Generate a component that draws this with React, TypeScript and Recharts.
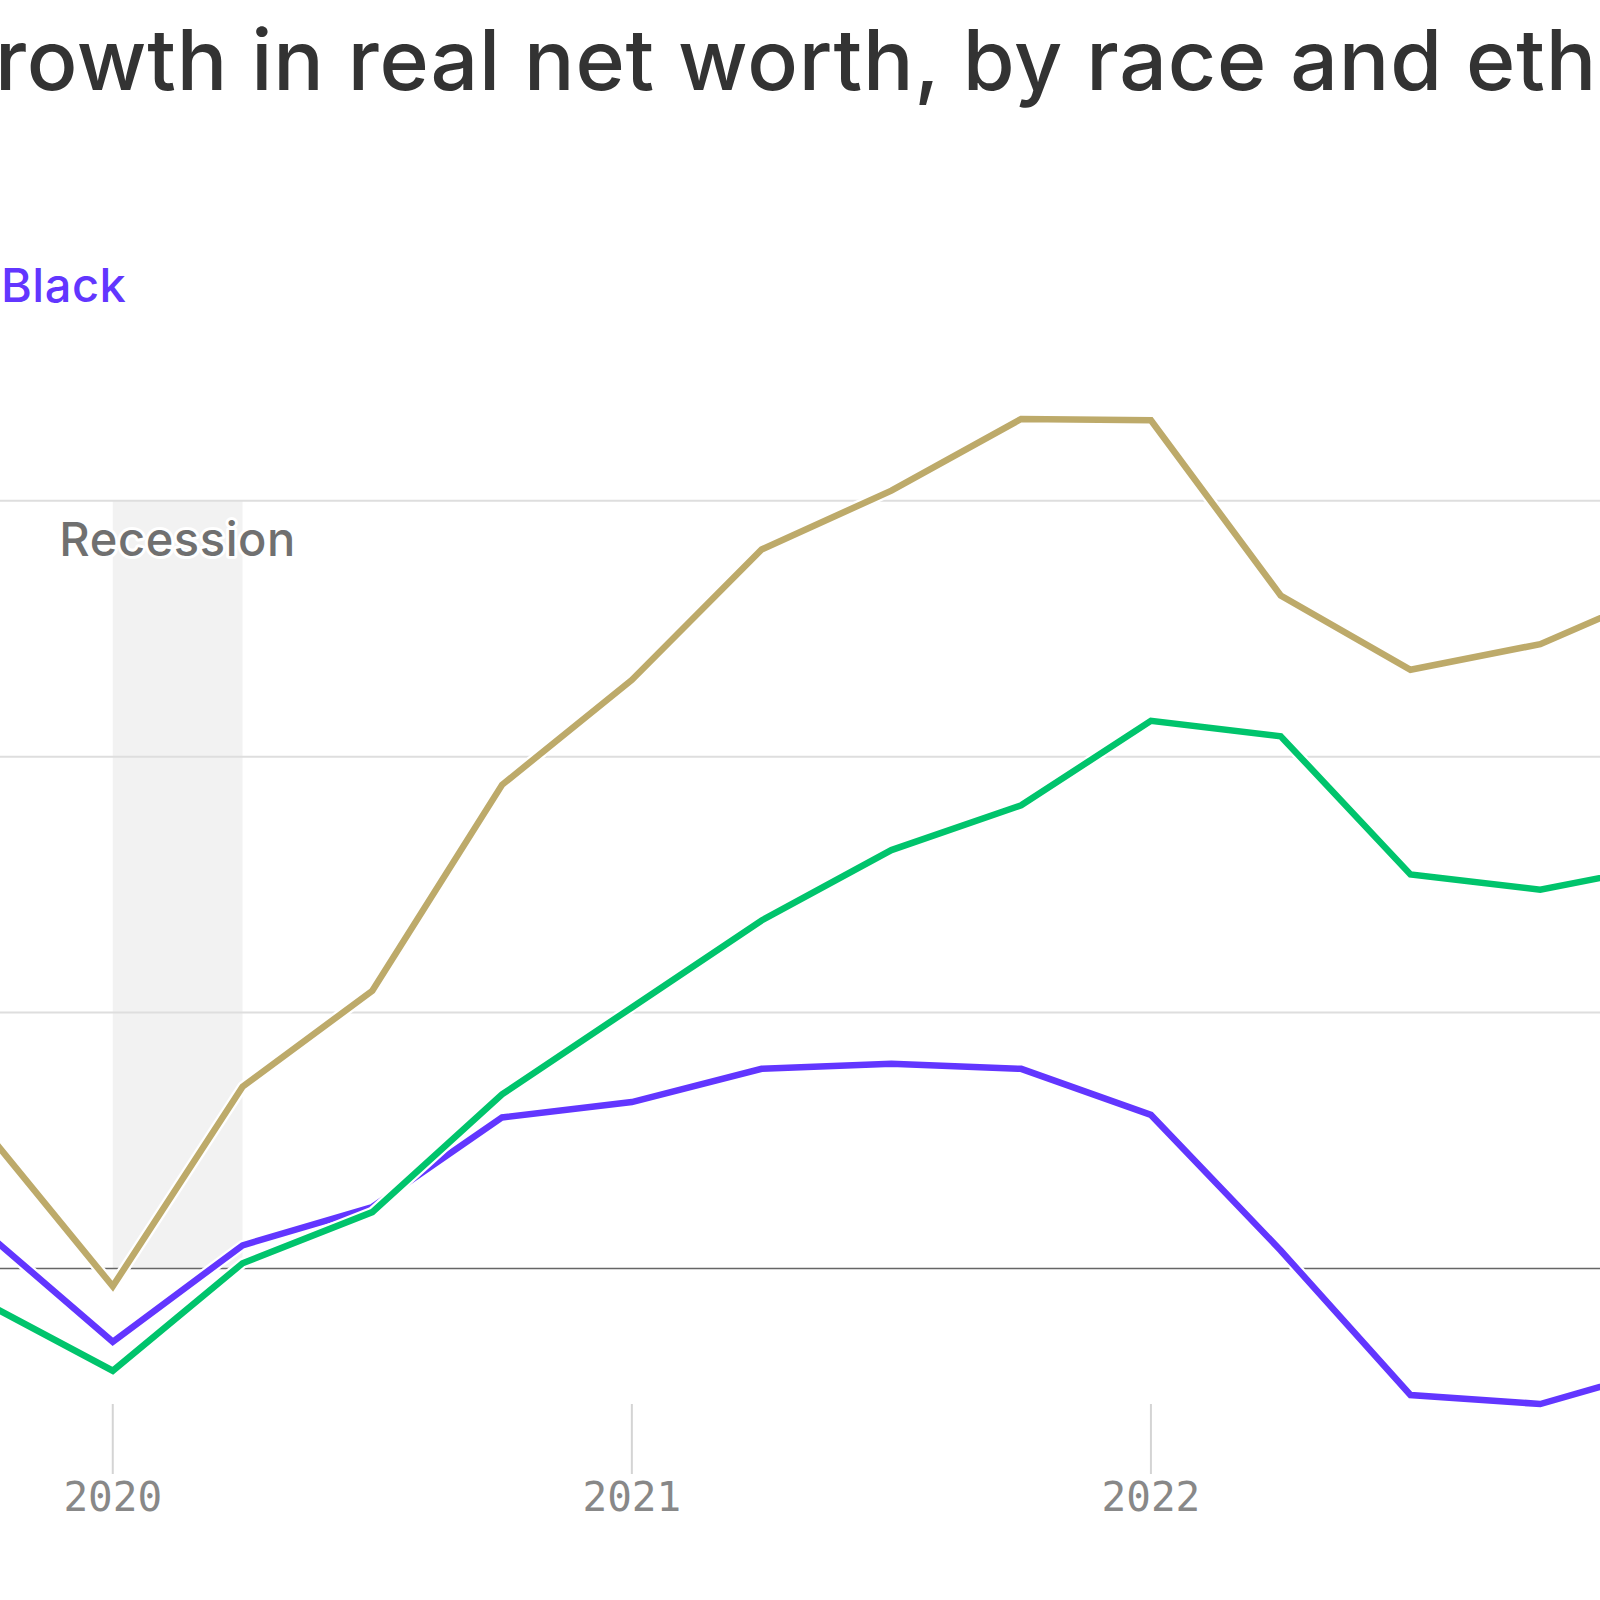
import React from 'react';
import { LineChart, Line, XAxis, YAxis, ReferenceLine, ReferenceArea } from 'recharts';

const quarters = ['2019 Q4', '2020 Q1', '2020 Q2', '2020 Q3', '2020 Q4', '2021 Q1', '2021 Q2', '2021 Q3', '2021 Q4', '2022 Q1', '2022 Q2', '2022 Q3', '2022 Q4', '2023 Q1'];
const hispanic = [5.5, -0.7, 7.1, 10.85, 18.9, 23.0, 28.1, 30.4, 33.2, 33.15, 26.3, 23.4, 24.4, 26.6];
const white = [-1.3, -4.0, 0.2, 2.2, 6.8, 10.2, 13.6, 16.35, 18.1, 21.4, 20.8, 15.4, 14.8, 15.8];
const black = [1.5, -2.87, 0.9, 2.4, 5.9, 6.5, 7.8, 8.0, 7.8, 6.0, 0.7, -4.95, -5.3, -3.85];
const yearTicks = ['2020 Q1', '2021 Q1', '2022 Q1'];
const gridValues = [10, 20, 30];
const recession = ['2020 Q1', '2020 Q2'];

const data = quarters.map((q, i) => ({ quarter: q, hispanic: hispanic[i], white: white[i], black: black[i] }));

const FONT = 'Inter, "Noto Sans", sans-serif';
const GOLD = '#bdaa6a';
const GREEN = '#00c46c';
const PURPLE = '#6236ff';

const RecessionLabel = (props: any) => {
  const vb = props.viewBox || {};
  return (
    <text
      x={vb.x + vb.width / 2}
      y={vb.y + 55}
      textAnchor="middle"
      fontFamily={FONT}
      fontSize={47}
      fontWeight={500}
      letterSpacing={0.6}
      fill="#707070"
      stroke="#ffffff"
      strokeWidth={6}
      strokeLinejoin="round"
      style={{ paintOrder: 'stroke' }}
    >
      Recession
    </text>
  );
};

export default function App() {
  return (
    <div style={{ position: 'absolute', left: 0, top: 0, width: 1600, height: 1600, overflow: 'hidden', background: '#fff' }}>
      <svg width={1600} height={240} style={{ position: 'absolute', left: 0, top: 0 }}>
        <text y={90} fontFamily={FONT} fontSize={84} fontWeight={500} letterSpacing={0.8} fill="#333333">
          <tspan x={0} textAnchor="end">G</tspan>
          <tspan x={-5} textAnchor="start">rowth in real net worth, by race and ethnicity</tspan>
        </text>
      </svg>
      <svg width={400} height={60} style={{ position: 'absolute', left: 0, top: 255 }}>
        <text x={1} y={47} fontFamily={FONT} fontSize={47} fontWeight={500} letterSpacing={0.5} fill={PURPLE}>Black</text>
      </svg>
      <div style={{ position: 'absolute', left: -17, top: 245 }}>
        <LineChart width={1687} height={1355} data={data} margin={{ top: 0, right: 0, bottom: 0, left: 0 }}>
          <XAxis
            dataKey="quarter"
            scale="point"
            padding={{ left: 0, right: 0 }}
            ticks={yearTicks}
            tickFormatter={(v: string) => v.slice(0, 4)}
            axisLine={false}
            tickLine={{ stroke: '#d4d4d4', strokeWidth: 2 }}
            tickSize={70}
            tickMargin={8}
            height={196}
            interval={0}
            tick={{ fill: '#888888', fontSize: 41, fontFamily: '"DejaVu Sans Mono", monospace' }}
          />
          <YAxis hide domain={[-5.3, 40]} type="number" />
          <ReferenceArea x1={recession[0]} x2={recession[1]} y1={0} y2={30} fill="#f2f2f2" fillOpacity={1} stroke="none" label={<RecessionLabel />} />
          {gridValues.map((v) => (
            <ReferenceLine key={v} y={v} stroke="#dedede" strokeWidth={2} />
          ))}
          <ReferenceLine y={0} stroke="#666666" strokeWidth={1.5} />
          <Line dataKey="black" stroke="#ffffff" strokeWidth={11} dot={false} activeDot={false} isAnimationActive={false} />
          <Line dataKey="black" stroke={PURPLE} strokeWidth={6.5} dot={false} activeDot={false} isAnimationActive={false} />
          <Line dataKey="white" stroke="#ffffff" strokeWidth={11} dot={false} activeDot={false} isAnimationActive={false} />
          <Line dataKey="white" stroke={GREEN} strokeWidth={6.5} dot={false} activeDot={false} isAnimationActive={false} />
          <Line dataKey="hispanic" stroke="#ffffff" strokeWidth={11} dot={false} activeDot={false} isAnimationActive={false} />
          <Line dataKey="hispanic" stroke={GOLD} strokeWidth={6.5} dot={false} activeDot={false} isAnimationActive={false} />
        </LineChart>
      </div>
    </div>
  );
}
